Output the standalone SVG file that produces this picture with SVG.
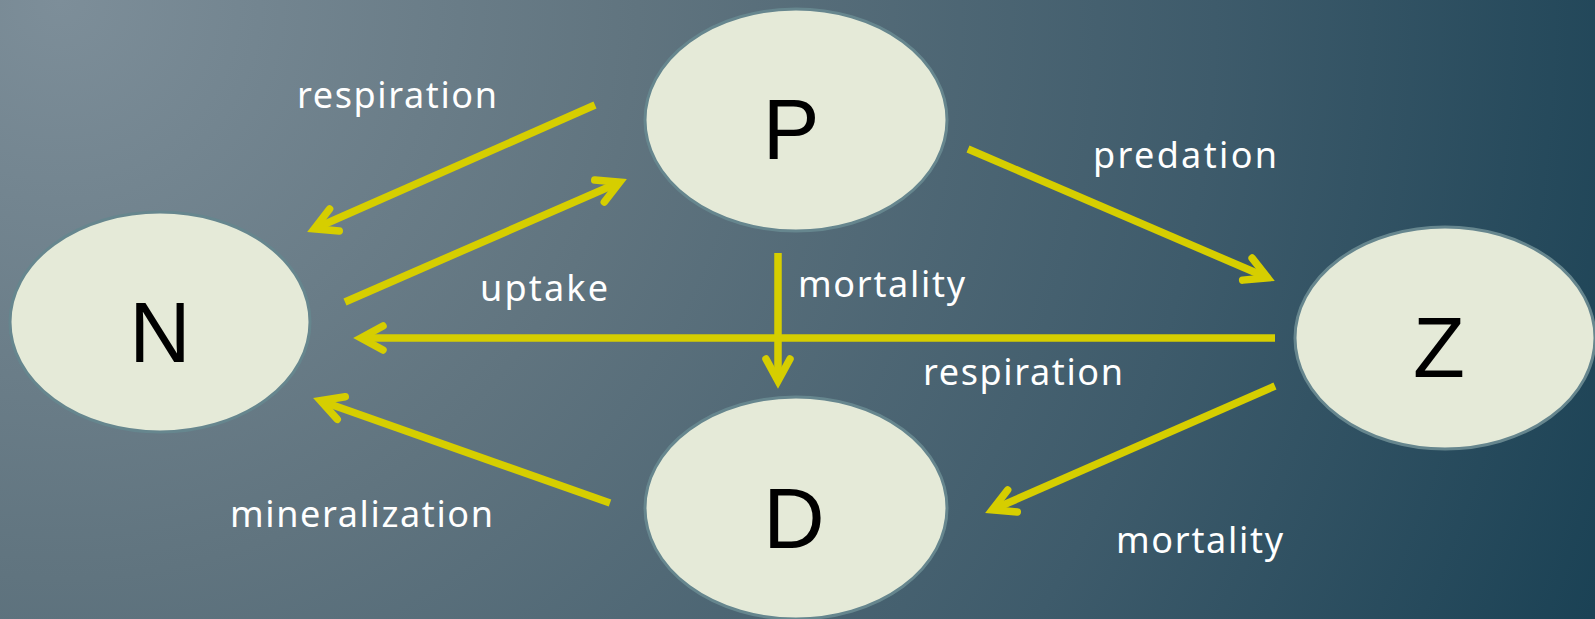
<svg xmlns="http://www.w3.org/2000/svg" width="1595" height="619" viewBox="0 0 1595 619">
<defs>
<radialGradient id="bg" gradientUnits="userSpaceOnUse" cx="60" cy="0" r="1650">
<stop offset="0" stop-color="#7d8e99"/>
<stop offset="0.35" stop-color="#60747f"/>
<stop offset="0.7" stop-color="#3e5b6b"/>
<stop offset="1" stop-color="#1b4255"/>
</radialGradient>
<marker id="head" markerUnits="userSpaceOnUse" orient="auto" refX="0" refY="0" markerWidth="60" markerHeight="60" overflow="visible">
<path d="M -22 -12 L 0 0 L -22 12" fill="none" stroke="#d6ce00" stroke-width="7.5" stroke-linecap="round" stroke-linejoin="miter"/>
</marker>
</defs>
<style>
.node ellipse { fill: #e5ead8; stroke: #66868e; stroke-width: 3; }
.node text { font-family: "Liberation Sans", Arial, sans-serif; font-size: 85px; fill: #000; text-anchor: middle; }
.conn line { stroke: #d6ce00; stroke-width: 7.5; marker-end: url(#head); }
.label { font-family: "Noto Sans", "Open Sans", sans-serif; font-size: 36px; fill: #ffffff; }
</style>
<rect x="0" y="0" width="1595" height="619" fill="url(#bg)"/>
<g id="node-N" class="node">
<ellipse cx="160" cy="322" rx="150" ry="110"/>
<text x="160" y="362">N</text>
</g>
<g id="node-P" class="node">
<ellipse cx="796" cy="120" rx="151" ry="111"/>
<text x="791" y="159">P</text>
</g>
<g id="node-Z" class="node">
<ellipse cx="1445" cy="338" rx="150" ry="111"/>
<text x="1439" y="377">Z</text>
</g>
<g id="node-D" class="node">
<ellipse cx="796" cy="508" rx="151" ry="111"/>
<text x="794" y="548">D</text>
</g>
<g id="connectors" class="conn">
<line x1="595" y1="105" x2="314.3" y2="228.8"/>
<line x1="345" y1="302" x2="619.7" y2="182.2"/>
<line x1="778" y1="253" x2="778" y2="381"/>
<line x1="968" y1="149" x2="1267.6" y2="277.8"/>
<line x1="1275" y1="338" x2="361" y2="338"/>
<line x1="1275" y1="386" x2="992.3" y2="509.8"/>
<line x1="610" y1="503" x2="320.5" y2="400.7"/>
</g>
<g id="labels">
<text class="label" x="297" y="108" textLength="200">respiration</text>
<text class="label" x="480" y="301" textLength="128">uptake</text>
<text class="label" x="798" y="297" textLength="167">mortality</text>
<text class="label" x="923" y="385" textLength="200">respiration</text>
<text class="label" x="1093" y="168" textLength="184">predation</text>
<text class="label" x="230" y="527" textLength="263">mineralization</text>
<text class="label" x="1116" y="553" textLength="167">mortality</text>
</g>
</svg>
